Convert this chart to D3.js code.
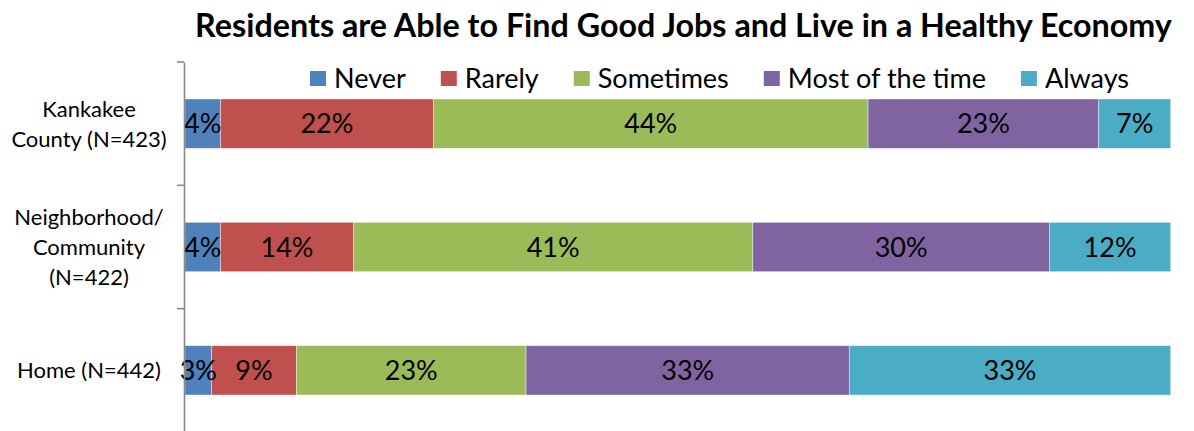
<!DOCTYPE html>
<html>
<head>
<meta charset="utf-8">
<script src="https://cdn.jsdelivr.net/npm/d3@7"></script>
<style>
  html, body { margin: 0; padding: 0; background: #fff; }
  svg { display: block; font-family: Lato, "Open Sans", sans-serif; }
</style>
</head>
<body>
<svg id="chart" width="1194" height="431"></svg>
<script>
// ---- data ----
const title = "Residents are Able to Find Good Jobs and Live in a Healthy Economy";
const categories = ["Kankakee County (N=423)", "Neighborhood/ Community (N=422)", "Home (N=442)"];
const categoryLines = [["Kankakee", "County (N=423)"], ["Neighborhood/", "Community", "(N=422)"], ["Home (N=442)"]];
const seriesNames = ["Never", "Rarely", "Sometimes", "Most of the time", "Always"];
const seriesColors = ["#4F81BD", "#C0504D", "#9BBB59", "#8064A2", "#4BACC6"];
const never     = [3.6, 3.6, 2.7];
const rarely    = [21.6, 13.5, 8.6];
const sometimes = [44.1, 40.5, 23.3];
const mostTime  = [23.4, 30.1, 32.8];
const always    = [7.3, 12.3, 32.6];
const seriesValues = [never, rarely, sometimes, mostTime, always];

// ---- layout ----
const svg = d3.select("#chart");
const plotLeft = 185, plotRight = 1170.7, plotTop = 62, plotBottom = 432;

const x = d3.scaleLinear().domain([0, 100]).range([plotLeft, plotRight]);
const y = d3.scaleBand().domain(categories).range([plotTop, plotBottom])
  .paddingInner(0.6).paddingOuter(0.3);

// stacked data
const rows = categories.map((c, i) => {
  const o = { cat: c };
  seriesNames.forEach((s, j) => o[s] = seriesValues[j][i]);
  return o;
});
const stacked = d3.stack().keys(seriesNames)(rows);

// title
const t = svg.append("text")
  .attr("x", (195 + 1172) / 2).attr("y", 36.5)
  .attr("text-anchor", "middle")
  .attr("font-weight", "bold").attr("font-size", 26)
  .attr("fill", "#000").text(title);
const tw = t.node().getComputedTextLength();
t.attr("font-size", 26 * 977 / tw);

// bars
const g = svg.append("g");
stacked.forEach((layer, j) => {
  g.selectAll(null).data(layer).enter().append("rect")
    .attr("x", d => x(d[0]))
    .attr("y", d => y(d.data.cat))
    .attr("width", d => x(d[1]) - x(d[0]))
    .attr("height", y.bandwidth())
    .attr("fill", seriesColors[j])
    .attr("stroke", "rgba(255,255,255,0.5)")
    .attr("stroke-width", 0.8);
});
stacked.forEach((layer, j) => {
  g.selectAll(null).data(layer).enter().append("text")
    .attr("x", d => (x(d[0]) + x(d[1])) / 2)
    .attr("y", d => y(d.data.cat) + y.bandwidth() / 2)
    .attr("dy", "0.36em")
    .attr("text-anchor", "middle")
    .attr("font-size", 27)
    .attr("fill", "#000")
    .text(d => Math.round(d[1] - d[0]) + "%");
});

// axis
const axis = svg.append("g").attr("transform", `translate(${plotLeft - 1},0)`)
  .call(d3.axisLeft(y).tickSize(0).tickFormat(""));
axis.select(".domain").attr("stroke", "#888").attr("stroke-width", 1.6);
const tickYs = [plotTop, ...categories.slice(1).map(c => y(c) - y.step() * y.paddingInner() / 2), plotBottom];
axis.selectAll(".septick").data(tickYs).enter().append("line")
  .attr("class", "septick")
  .attr("x1", -7).attr("x2", 0)
  .attr("y1", d => d).attr("y2", d => d)
  .attr("stroke", "#888").attr("stroke-width", 1.6);

// category labels
categories.forEach((c, i) => {
  const lines = categoryLines[i];
  const cy = y(c) + y.bandwidth() / 2;
  const lh = 30;
  const txt = svg.append("text")
    .attr("text-anchor", "middle")
    .attr("font-size", 22)
    .attr("fill", "#000");
  lines.forEach((l, k) => {
    txt.append("tspan")
      .attr("x", 89)
      .attr("y", cy + (k - (lines.length - 1) / 2) * lh)
      .attr("dy", "0.36em")
      .text(l);
  });
});

// legend
const legend = svg.append("g");
let lx = 310;
seriesNames.forEach((s, j) => {
  legend.append("rect").attr("x", lx).attr("y", 71).attr("width", 16).attr("height", 15)
    .attr("fill", seriesColors[j]);
  const tx = legend.append("text").attr("x", lx + 24).attr("y", 78.5).attr("dy", "0.36em")
    .attr("font-size", 27).attr("fill", "#000").text(s);
  lx += 24 + tx.node().getComputedTextLength() + 35;
});
</script>
</body>
</html>
